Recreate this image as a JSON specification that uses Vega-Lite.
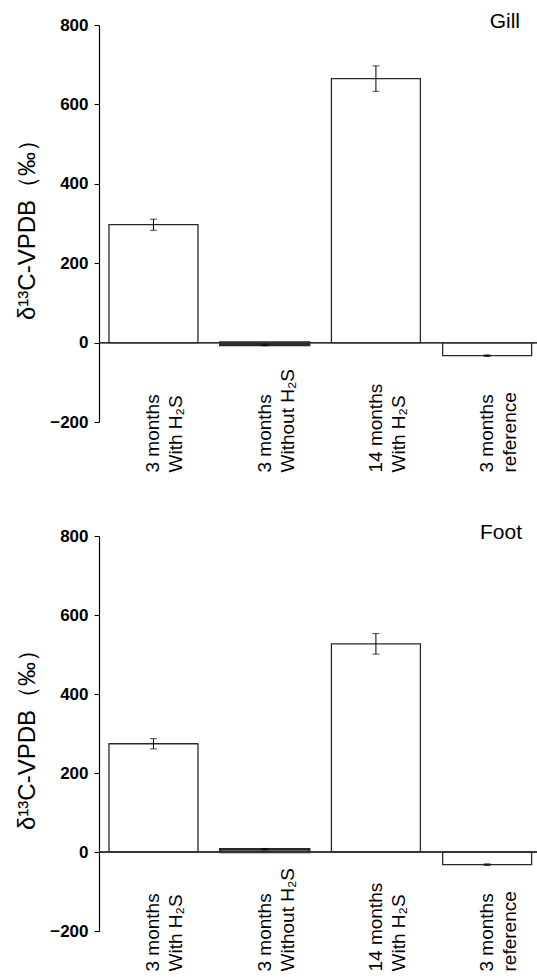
{
  "$schema": "https://vega.github.io/schema/vega-lite/v6.json",
  "background": "white",
  "padding": {"left": 15, "top": 11, "right": 0, "bottom": 0},
  "spacing": 50,
  "config": {
    "view": {"stroke": null},
    "font": "Liberation Sans",
    "axis": {"grid": false}
  },
  "datasets": {
    "gill": [
      {"group": "3 months|With H₂S", "value": 297, "lo": 283, "hi": 311},
      {"group": "3 months|Without H₂S", "value": -6, "lo": -8, "hi": -4},
      {"group": "14 months|With H₂S", "value": 665, "lo": 633, "hi": 697},
      {"group": "3 months|reference", "value": -33, "lo": -35, "hi": -31}
    ],
    "foot": [
      {"group": "3 months|With H₂S", "value": 274, "lo": 261, "hi": 287},
      {"group": "3 months|Without H₂S", "value": 7, "lo": 5, "hi": 9},
      {"group": "14 months|With H₂S", "value": 527, "lo": 501, "hi": 553},
      {"group": "3 months|reference", "value": -32, "lo": -34, "hi": -30}
    ]
  },
  "vconcat": [
    {
      "data": {"name": "gill"},
      "width": 438,
      "height": 397,
      "title": {"text": "Gill", "anchor": "end", "frame": "group", "fontSize": 21, "fontWeight": "normal", "color": "black", "baseline": "alphabetic", "offset": -33, "dx": -17},
      "layer": [
        {
          "mark": {"type": "bar", "fill": "white", "stroke": "#2a2a2a"},
          "encoding": {
            "x": {"field": "group", "type": "nominal", "sort": null,
              "scale": {"paddingInner": 0.2, "paddingOuter": 0.069, "align": 0.65},
              "axis": {"title": null, "domain": false, "ticks": false, "labelAngle": -90, "labelAlign": "left", "labelBaseline": "middle", "labelPadding": 50, "labelFontSize": 19, "labelLineHeight": 23, "labelColor": "black", "labelExpr": "split(datum.label, '|')"}},
            "y": {"field": "value", "type": "quantitative", "scale": {"domain": [-200, 800], "nice": false},
              "axis": {"values": [-200, 0, 200, 400, 600, 800], "title": "δ¹³C-VPDB（‰）", "titleFontSize": 24, "titleFontWeight": "normal", "titleColor": "black", "titlePadding": 10, "labelFontSize": 17, "labelFontWeight": "bold", "labelColor": "black", "labelPadding": 6, "tickSize": 5, "tickColor": "black", "domainColor": "black", "domainWidth": 1.2}},
            "strokeWidth": {"condition": {"test": "abs(datum.value) < 10", "value": 2.5}, "value": 1.3}
          }
        },
        {"mark": {"type": "rule", "color": "#333", "strokeWidth": 1.2}, "encoding": {"y": {"datum": 0}}},
        {"mark": {"type": "rule", "color": "black"}, "encoding": {"x": {"field": "group", "type": "nominal", "sort": null}, "y": {"field": "lo", "type": "quantitative"}, "y2": {"field": "hi"}}},
        {"mark": {"type": "tick", "color": "black", "size": 7, "thickness": 1}, "encoding": {"x": {"field": "group", "type": "nominal", "sort": null}, "y": {"field": "lo", "type": "quantitative"}}},
        {"mark": {"type": "tick", "color": "black", "size": 7, "thickness": 1}, "encoding": {"x": {"field": "group", "type": "nominal", "sort": null}, "y": {"field": "hi", "type": "quantitative"}}}
      ]
    },
    {
      "data": {"name": "foot"},
      "width": 438,
      "height": 395,
      "title": {"text": "Foot", "anchor": "end", "frame": "group", "fontSize": 21, "fontWeight": "normal", "color": "black", "baseline": "alphabetic", "offset": -33, "dx": -15},
      "layer": [
        {
          "mark": {"type": "bar", "fill": "white", "stroke": "#2a2a2a"},
          "encoding": {
            "x": {"field": "group", "type": "nominal", "sort": null,
              "scale": {"paddingInner": 0.2, "paddingOuter": 0.069, "align": 0.65},
              "axis": {"title": null, "domain": false, "ticks": false, "labelAngle": -90, "labelAlign": "left", "labelBaseline": "middle", "labelPadding": 40, "labelFontSize": 19, "labelLineHeight": 23, "labelColor": "black", "labelExpr": "split(datum.label, '|')"}},
            "y": {"field": "value", "type": "quantitative", "scale": {"domain": [-200, 800], "nice": false},
              "axis": {"values": [-200, 0, 200, 400, 600, 800], "title": "δ¹³C-VPDB（‰）", "titleFontSize": 24, "titleFontWeight": "normal", "titleColor": "black", "titlePadding": 10, "labelFontSize": 17, "labelFontWeight": "bold", "labelColor": "black", "labelPadding": 6, "tickSize": 5, "tickColor": "black", "domainColor": "black", "domainWidth": 1.2}},
            "strokeWidth": {"condition": {"test": "abs(datum.value) < 10", "value": 2.5}, "value": 1.3}
          }
        },
        {"mark": {"type": "rule", "color": "#333", "strokeWidth": 1.2}, "encoding": {"y": {"datum": 0}}},
        {"mark": {"type": "rule", "color": "black"}, "encoding": {"x": {"field": "group", "type": "nominal", "sort": null}, "y": {"field": "lo", "type": "quantitative"}, "y2": {"field": "hi"}}},
        {"mark": {"type": "tick", "color": "black", "size": 7, "thickness": 1}, "encoding": {"x": {"field": "group", "type": "nominal", "sort": null}, "y": {"field": "lo", "type": "quantitative"}}},
        {"mark": {"type": "tick", "color": "black", "size": 7, "thickness": 1}, "encoding": {"x": {"field": "group", "type": "nominal", "sort": null}, "y": {"field": "hi", "type": "quantitative"}}}
      ]
    }
  ]
}
